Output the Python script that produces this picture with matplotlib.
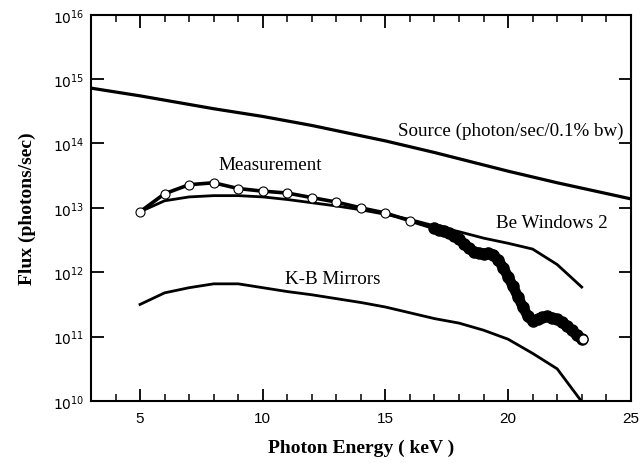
import numpy as np
import matplotlib
matplotlib.use("Agg")
import matplotlib.pyplot as plt
from matplotlib.ticker import FixedLocator, FuncFormatter

plt.rcParams['mathtext.fontset'] = 'custom'
plt.rcParams['mathtext.rm'] = 'Liberation Serif'

# Source spectrum (photon/sec/0.1% bw), log10 values
src_e = [3, 5, 8, 10, 12, 15, 17, 20, 22, 25]
src_log = [14.86, 14.74, 14.54, 14.42, 14.28, 14.04, 13.86, 13.57, 13.39, 13.14]

# Be Windows 2
be_e = [5, 6, 7, 8, 9, 10, 11, 12, 13, 14, 15, 16, 17, 18, 19, 20, 21, 22, 23]
be_log = [12.94, 13.11, 13.17, 13.19, 13.19, 13.17, 13.13, 13.08, 13.03, 12.97,
          12.90, 12.82, 12.72, 12.63, 12.53, 12.45, 12.36, 12.12, 11.77]

# K-B Mirrors
kb_e = [5, 6, 7, 8, 9, 10, 11, 12, 13, 14, 15, 16, 17, 18, 19, 20, 21, 22, 23]
kb_log = [11.50, 11.68, 11.76, 11.82, 11.82, 11.76, 11.70, 11.65, 11.59, 11.53,
          11.46, 11.37, 11.28, 11.21, 11.10, 10.96, 10.74, 10.50, 9.99]

# Measurement, coarse scan (open circles)
meas_e = [5, 6, 7, 8, 9, 10, 11, 12, 13, 14, 15, 16]
meas_log = [12.94, 13.22, 13.36, 13.39, 13.30, 13.26, 13.23, 13.16, 13.09, 13.00,
            12.92, 12.80]

# Measurement, fine scan (filled)
fine_e = [17.0, 17.2, 17.4, 17.6, 17.8, 18.0, 18.2, 18.4, 18.6, 18.8, 19.0, 19.2,
          19.4, 19.6, 19.8, 20.0, 20.2, 20.4, 20.6, 20.8, 21.0, 21.2, 21.4, 21.6,
          21.8, 22.0, 22.2, 22.4, 22.6, 22.8, 23.0]
fine_log = [12.68, 12.66, 12.64, 12.61, 12.57, 12.52, 12.44, 12.37, 12.32, 12.30,
            12.29, 12.30, 12.27, 12.19, 12.07, 11.93, 11.78, 11.62, 11.46, 11.32,
            11.24, 11.27, 11.30, 11.32, 11.29, 11.27, 11.22, 11.16, 11.10, 11.02,
            10.96]

last_e = [23.05]
last_log = [10.97]

serif = 'Liberation Serif'

fig = plt.figure(figsize=(6.43, 4.64), dpi=100)
ax = fig.add_axes([0.1415, 0.1336, 0.8395, 0.8325])

def p(v):
    return 10 ** np.array(v)

ax.plot(src_e, p(src_log), color='black', lw=2.3, zorder=2)
ax.plot(be_e, p(be_log), color='black', lw=2.0, zorder=2)
ax.plot(kb_e, p(kb_log), color='black', lw=2.0, zorder=2)
ax.plot(meas_e + fine_e[:1], p(meas_log + fine_log[:1]), color='black', lw=2.6, zorder=3)
ax.plot(meas_e, p(meas_log), 'o', ms=6.5, mfc='white', mec='black', mew=0.8, zorder=4)
ax.plot(fine_e, p(fine_log), color='black', lw=7.5, solid_capstyle='round', zorder=3)
ax.plot(fine_e, p(fine_log), 'o', ms=8, color='black', zorder=3)
ax.plot(last_e, p(last_log), 'o', ms=6.5, mfc='white', mec='black', mew=0.8, zorder=5)

ax.set_yscale('log')
ax.set_xlim(3, 25)
ax.set_ylim(1e10, 1e16)

ax.xaxis.set_major_locator(FixedLocator([5, 10, 15, 20, 25]))
ax.xaxis.set_minor_locator(FixedLocator(list(range(4, 25))))
ax.yaxis.set_major_locator(FixedLocator([10.0 ** k for k in range(10, 17)]))
ax.yaxis.set_minor_locator(FixedLocator([]))
ax.yaxis.set_major_formatter(FuncFormatter(
    lambda v, pos: r'$\mathregular{10^{%d}}$' % round(np.log10(v))))

ax.tick_params(axis='both', which='major', direction='in', top=True, right=True,
               length=9, width=1.3)
ax.tick_params(axis='x', which='minor', direction='in', top=True, length=5, width=1.1)
ax.tick_params(axis='x', labelsize=11, pad=7)
ax.tick_params(axis='y', labelsize=10, pad=5)
for lab in ax.get_xticklabels():
    lab.set_family('Liberation Sans')
for s in ax.spines.values():
    s.set_linewidth(1.5)

ax.set_xlabel('Photon Energy ( keV )', family=serif, fontweight='bold',
              fontsize=14, labelpad=10)
ax.set_ylabel('Flux (photons/sec)', family=serif, fontweight='bold',
              fontsize=14, labelpad=12)

ax.text(15.5, 1.6e14, 'Source (photon/sec/0.1% bw)', family=serif, fontsize=13.7,
        va='center', ha='left')
ax.text(8.2, 10 ** 13.68, 'Measurement', family=serif, fontsize=13.7,
        va='center', ha='left')
ax.text(19.5, 10 ** 12.78, 'Be Windows 2', family=serif, fontsize=13.7,
        va='center', ha='left')
ax.text(10.9, 10 ** 11.9, 'K-B Mirrors', family=serif, fontsize=13.7,
        va='center', ha='left')

plt.savefig('out.png', dpi=100)
